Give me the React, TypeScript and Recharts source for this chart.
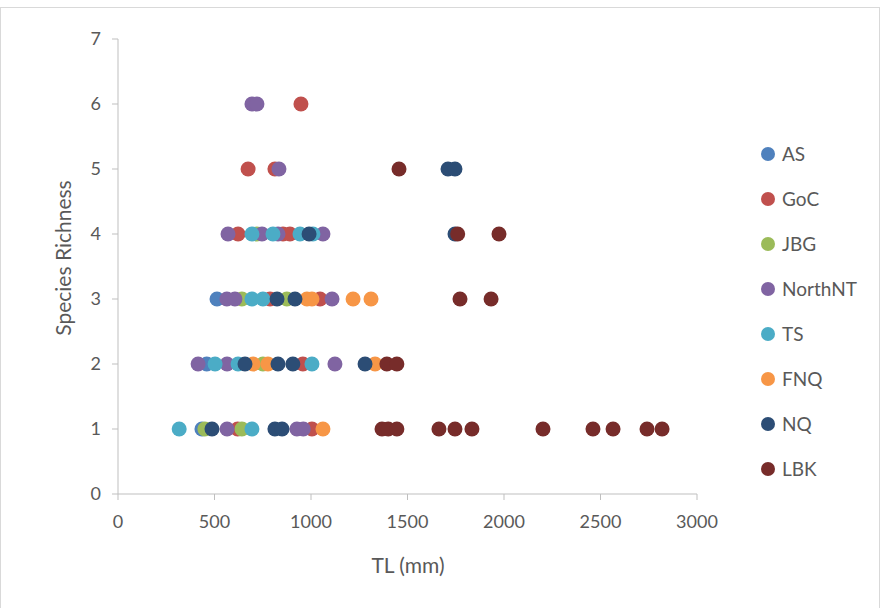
import React from 'react';
import { ScatterChart, Scatter, XAxis, YAxis } from 'recharts';

const seriesNames = ['AS', 'GoC', 'JBG', 'NorthNT', 'TS', 'FNQ', 'NQ', 'LBK'];
const seriesColors = ['#4F81BD', '#C0504D', '#9BBB59', '#8064A2', '#4BACC6', '#F79646', '#2C4D75', '#772C2A'];

const asTL = [435, 460, 513];
const asSR = [1, 2, 3];
const gocTL = [620, 1005, 958, 788, 1047, 622, 855, 891, 674, 813, 948];
const gocSR = [1, 1, 2, 3, 3, 4, 4, 4, 5, 5, 6];
const jbgTL = [450, 642, 751, 642, 875, 720];
const jbgSR = [1, 1, 2, 3, 3, 4];
const northTL = [565, 927, 960, 415, 565, 1124, 564, 606, 1109, 570, 746, 829, 1062, 834, 694, 720];
const northSR = [1, 1, 1, 2, 2, 2, 3, 3, 3, 4, 4, 4, 4, 5, 6, 6];
const tsTL = [317, 694, 503, 622, 1005, 694, 751, 694, 803, 943, 1010];
const tsSR = [1, 1, 2, 2, 2, 3, 3, 4, 4, 4, 4];
const fnqTL = [1062, 700, 777, 1332, 979, 1005, 1218, 1311];
const fnqSR = [1, 2, 2, 2, 3, 3, 3, 3];
const nqTL = [487, 813, 850, 658, 829, 906, 1280, 824, 917, 990, 1746, 1710, 1746];
const nqSR = [1, 1, 1, 2, 2, 2, 2, 3, 3, 4, 4, 5, 5];
const lbkTL = [1368, 1400, 1445, 1663, 1746, 1834, 2202, 2461, 2565, 2741, 2819, 1393, 1445, 1772, 1933, 1760, 1974, 1456];
const lbkSR = [1, 1, 1, 1, 1, 1, 1, 1, 1, 1, 1, 2, 2, 3, 3, 4, 4, 5];

const xTicks = [0, 500, 1000, 1500, 2000, 2500, 3000];
const yTicks = [0, 1, 2, 3, 4, 5, 6, 7];

const tlLists = [asTL, gocTL, jbgTL, northTL, tsTL, fnqTL, nqTL, lbkTL];
const srLists = [asSR, gocSR, jbgSR, northSR, tsSR, fnqSR, nqSR, lbkSR];

const seriesData = seriesNames.map((name, i) => ({
  name,
  color: seriesColors[i],
  data: tlLists[i].map((tl, j) => ({ tl, sr: srLists[i][j] })),
}));

const FONT = 'Lato, "Open Sans", sans-serif';
const TEXT = '#595959';

const Dot = (props: any) => {
  const { cx, cy, fill } = props;
  if (cx == null || cy == null) return null;
  return <circle cx={cx} cy={cy} r={7.5} fill={fill} />;
};

export default function App() {
  return (
    <div style={{ position: 'absolute', left: 0, top: 0, width: 880, height: 608, background: '#fff' }}>
      <div
        style={{
          position: 'absolute',
          left: 0,
          top: 7,
          width: 878,
          height: 601,
          borderTop: '1px solid #d9d9d9',
          borderLeft: '1px solid #d9d9d9',
          borderRight: '1px solid #d9d9d9',
        }}
      />
      <div style={{ position: 'absolute', left: 0, top: 0 }}>
        <ScatterChart width={880} height={608} margin={{ top: 39, right: 183, bottom: 84, left: 58 }}>
          <XAxis
            type="number"
            dataKey="tl"
            domain={[0, 3000]}
            ticks={xTicks}
            interval={0}
            height={30}
            stroke="#bfbfbf"
            tickSize={6}
            tick={{ fill: TEXT, fontSize: 18, fontFamily: FONT, dy: 13 }}
          />
          <YAxis
            type="number"
            dataKey="sr"
            domain={[0, 7]}
            ticks={yTicks}
            interval={0}
            width={60}
            stroke="#bfbfbf"
            tickSize={6}
            tick={{ fill: TEXT, fontSize: 18, fontFamily: FONT, dx: -9 }}
          />
          {seriesData.map((s) => (
            <Scatter
              key={s.name}
              name={s.name}
              data={s.data}
              fill={s.color}
              shape={<Dot />}
              isAnimationActive={false}
            />
          ))}
        </ScatterChart>
      </div>
      <div style={{ position: 'absolute', left: 754, top: 131, fontFamily: FONT }}>
        {seriesData.map((s) => (
          <div key={s.name} style={{ display: 'flex', alignItems: 'center', height: 45 }}>
            <svg width={16} height={16} style={{ marginLeft: 6, marginRight: 6 }}>
              <circle cx={8} cy={8} r={7} fill={s.color} />
            </svg>
            <span style={{ fontSize: 19, color: TEXT }}>{s.name}</span>
          </div>
        ))}
      </div>
      <div
        style={{
          position: 'absolute',
          left: 0,
          width: 816,
          top: 552,
          textAlign: 'center',
          fontFamily: FONT,
          fontSize: 21,
          color: TEXT,
        }}
      >
        TL (mm)
      </div>
      <div
        style={{
          position: 'absolute',
          left: 62,
          top: 258,
          transform: 'translate(-50%, -50%) rotate(-90deg)',
          whiteSpace: 'nowrap',
          fontFamily: FONT,
          fontSize: 21,
          color: TEXT,
        }}
      >
        Species Richness
      </div>
    </div>
  );
}
